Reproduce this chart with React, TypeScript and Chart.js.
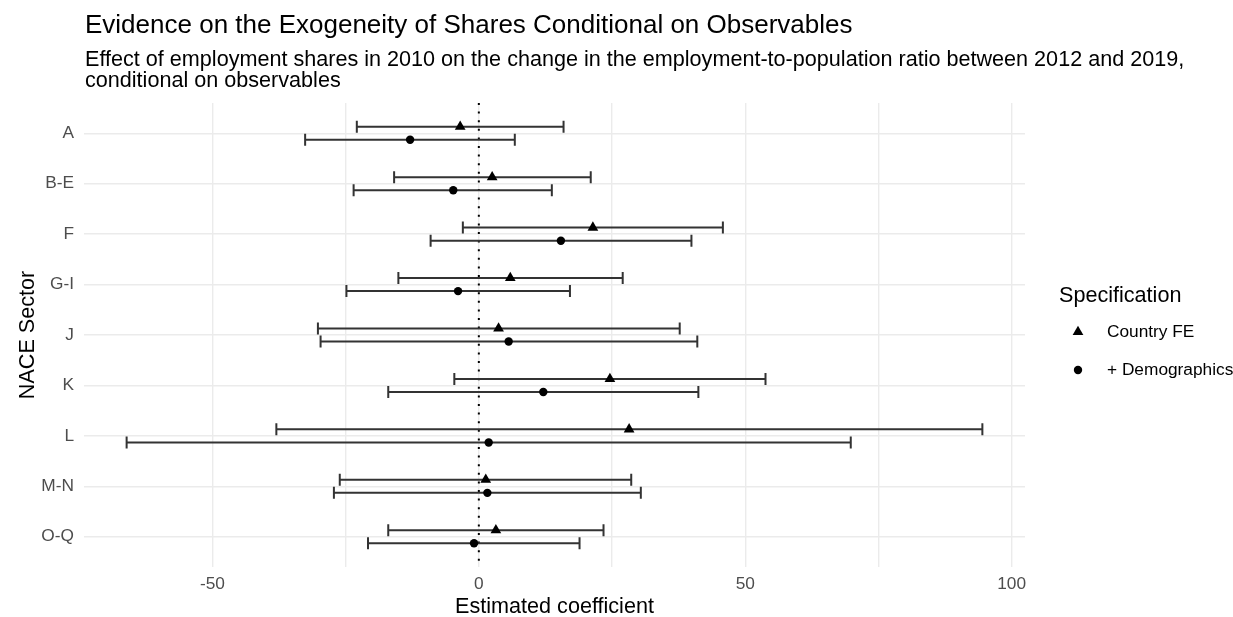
import React, { useEffect, useRef } from 'react';
import { Chart, registerables } from 'chart.js';

Chart.register(...registerables);

// ---- Data ----
const sectors = ['A', 'B-E', 'F', 'G-I', 'J', 'K', 'L', 'M-N', 'O-Q'];

const feEstimate = [-3.5, 2.5, 21.4, 5.9, 3.7, 24.6, 28.2, 1.3, 3.2];
const feLower = [-22.9, -15.9, -3.0, -15.1, -30.2, -4.6, -38.0, -26.1, -17.0];
const feUpper = [15.9, 21.0, 45.8, 27.0, 37.7, 53.8, 94.5, 28.6, 23.4];

const demoEstimate = [-12.9, -4.8, 15.4, -3.9, 5.6, 12.1, 1.85, 1.6, -0.9];
const demoLower = [-32.6, -23.5, -9.05, -24.85, -29.7, -17.0, -66.1, -27.2, -20.8];
const demoUpper = [6.75, 13.7, 39.9, 17.1, 41.0, 41.2, 69.8, 30.4, 18.9];

const xTickLabels = [-50, 0, 50, 100];

const seriesNames = ['Country FE', '+ Demographics'];

const titleText = 'Evidence on the Exogeneity of Shares Conditional on Observables';
const subtitleLines = [
  'Effect of employment shares in 2010 on the change in the employment-to-population ratio between 2012 and 2019,',
  'conditional on observables',
];
const xTitle = 'Estimated coefficient';
const yTitle = 'NACE Sector';
const legendTitle = 'Specification';

// ---- Style constants ----
const FONT = "'Liberation Sans', Arial, sans-serif";
const DODGE = 0.13;
const CAP = 6;

export default function App() {
  const ref = useRef<HTMLCanvasElement | null>(null);

  useEffect(() => {
    if (!ref.current) return;

    const overlay = {
      id: 'overlay',
      beforeDatasetsDraw(chart: any) {
        const { ctx, chartArea, scales } = chart;
        const x = scales.x;
        const y = scales.y;
        ctx.save();
        // dotted zero line
        const x0 = x.getPixelForValue(0);
        ctx.strokeStyle = '#000000';
        ctx.lineWidth = 2;
        ctx.setLineDash([2, 6.6]);
        ctx.beginPath();
        ctx.moveTo(x0, chartArea.top);
        ctx.lineTo(x0, chartArea.bottom);
        ctx.stroke();
        ctx.setLineDash([]);
        // error bars
        const groups: [number[], number[], number][] = [
          [feLower, feUpper, -DODGE],
          [demoLower, demoUpper, DODGE],
        ];
        ctx.strokeStyle = '#333333';
        ctx.lineWidth = 2;
        for (const [lo, hi, off] of groups) {
          for (let i = 0; i < sectors.length; i++) {
            const py = y.getPixelForValue(i + 1 + off);
            const pl = x.getPixelForValue(lo[i]);
            const ph = x.getPixelForValue(hi[i]);
            ctx.beginPath();
            ctx.moveTo(pl, py);
            ctx.lineTo(ph, py);
            ctx.moveTo(pl, py - CAP);
            ctx.lineTo(pl, py + CAP);
            ctx.moveTo(ph, py - CAP);
            ctx.lineTo(ph, py + CAP);
            ctx.stroke();
          }
        }
        ctx.restore();
      },
      afterDraw(chart: any) {
        const { ctx, chartArea } = chart;
        ctx.save();
        ctx.fillStyle = '#000000';
        ctx.textAlign = 'left';
        ctx.textBaseline = 'alphabetic';
        // title
        ctx.font = `26px ${FONT}`;
        ctx.fillText(titleText, chartArea.left + 1, 33);
        // subtitle
        ctx.font = `21.6px ${FONT}`;
        ctx.fillText(subtitleLines[0], chartArea.left + 1, 65.5);
        ctx.fillText(subtitleLines[1], chartArea.left + 1, 87.3);
        // x axis title
        ctx.textAlign = 'center';
        ctx.fillText(xTitle, (chartArea.left + chartArea.right) / 2, 613);
        // y axis title
        ctx.save();
        ctx.translate(33.5, (chartArea.top + chartArea.bottom) / 2);
        ctx.rotate(-Math.PI / 2);
        ctx.fillText(yTitle, 0, 0);
        ctx.restore();
        // legend
        ctx.textAlign = 'left';
        ctx.fillText(legendTitle, 1059, 302);
        ctx.font = `17.3px ${FONT}`;
        ctx.textBaseline = 'middle';
        // triangle
        const tx = 1078, ty = 332, r = 6.2;
        ctx.beginPath();
        ctx.moveTo(tx, ty - r);
        ctx.lineTo(tx + r * Math.sin((2 * Math.PI) / 3), ty - r * Math.cos((2 * Math.PI) / 3));
        ctx.lineTo(tx + r * Math.sin((4 * Math.PI) / 3), ty - r * Math.cos((4 * Math.PI) / 3));
        ctx.closePath();
        ctx.fill();
        ctx.fillText(seriesNames[0], 1107, 332);
        // circle
        ctx.beginPath();
        ctx.arc(1078, 370, 4.2, 0, Math.PI * 2);
        ctx.fill();
        ctx.fillText(seriesNames[1], 1107, 370);
        ctx.restore();
      },
    };

    const chart = new Chart(ref.current, {
      type: 'scatter',
      data: {
        datasets: [
          {
            label: seriesNames[0],
            data: feEstimate.map((v, i) => ({ x: v, y: i + 1 - DODGE })),
            pointStyle: 'triangle',
            pointRadius: 6.2,
            pointBackgroundColor: '#000000',
            pointBorderWidth: 0,
          },
          {
            label: seriesNames[1],
            data: demoEstimate.map((v, i) => ({ x: v, y: i + 1 + DODGE })),
            pointStyle: 'circle',
            pointRadius: 4.2,
            pointBackgroundColor: '#000000',
            pointBorderWidth: 0,
          },
        ],
      },
      options: {
        animation: false,
        responsive: false,
        devicePixelRatio: 1,
        layout: { padding: { left: 0, top: 103, right: 208, bottom: 0 } },
        plugins: {
          legend: { display: false },
          tooltip: { enabled: false },
          title: { display: false },
        },
        scales: {
          x: {
            type: 'linear',
            min: -74.1,
            max: 102.5,
            ticks: {
              stepSize: 25,
              includeBounds: false,
              autoSkip: false,
              maxRotation: 0,
              padding: 7,
              color: '#4d4d4d',
              font: { family: FONT, size: 17.3 },
              callback: (v: any) => (xTickLabels.includes(Number(v)) ? String(v) : ''),
            },
            grid: { color: '#ebebeb', lineWidth: 1.4, drawTicks: false },
            border: { display: false },
            afterFit: (s: any) => {
              s.height = 50;
            },
          },
          y: {
            type: 'linear',
            min: 0.4,
            max: 9.6,
            reverse: true,
            ticks: {
              stepSize: 1,
              includeBounds: false,
              autoSkip: false,
              padding: 10,
              color: '#4d4d4d',
              font: { family: FONT, size: 17.3 },
              callback: (v: any) => sectors[Math.round(Number(v)) - 1] ?? '',
            },
            grid: { color: '#ebebeb', lineWidth: 1.4, drawTicks: false },
            border: { display: false },
            afterFit: (s: any) => {
              s.width = 84;
            },
          },
        },
      },
      plugins: [overlay],
    } as any);

    return () => chart.destroy();
  }, []);

  return (
    <div style={{ position: 'absolute', left: 0, top: 0, width: 1233, height: 617, background: '#ffffff' }}>
      <canvas ref={ref} width={1233} height={617} style={{ display: 'block' }} />
    </div>
  );
}
